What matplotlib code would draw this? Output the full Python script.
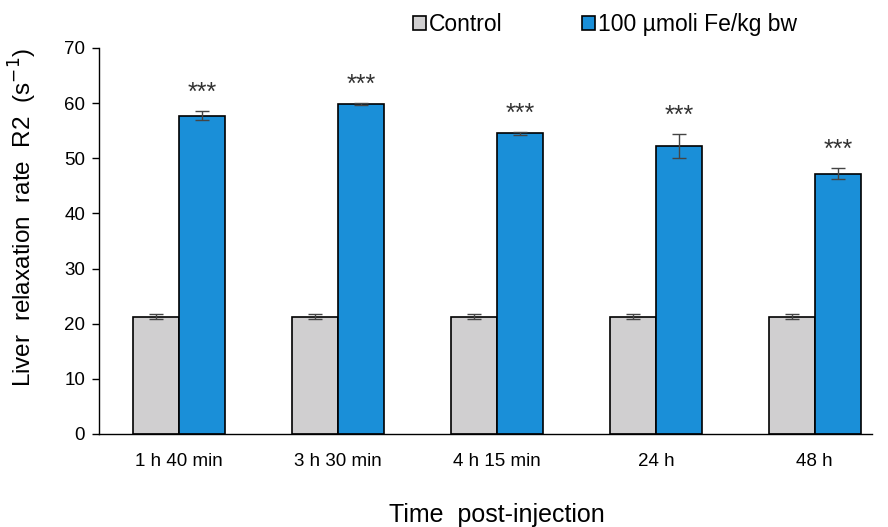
#!/usr/bin/env python3
"""Liver R2 relaxation rate bar chart"""
import matplotlib
matplotlib.use('Agg')
import matplotlib.pyplot as plt
import numpy as np

times = ['1 h 40 min', '3 h 30 min', '4 h 15 min', '24 h', '48 h']
control = [21.3, 21.3, 21.3, 21.3, 21.3]
control_err = [0.4, 0.4, 0.4, 0.4, 0.4]
treated = [57.7, 59.8, 54.5, 52.2, 47.2]
treated_err = [0.8, 0.2, 0.2, 2.2, 1.0]
stars = ['***'] * 5

plt.rcParams['font.family'] = ['Liberation Sans', 'DejaVu Sans']

fig = plt.figure(figsize=(8.88, 5.27), dpi=100)
ax = fig.add_axes([0.1115, 0.1765, 0.8705, 0.7325])

x = np.arange(len(times))
w = 0.29
err_kw = dict(ecolor='#444444', elinewidth=1.0, capsize=5, capthick=1.0)
ax.bar(x - w / 2, control, w, yerr=control_err, color='#d0cfd0',
       edgecolor='black', linewidth=1.2, label='Control', error_kw=err_kw)
ax.bar(x + w / 2, treated, w, yerr=treated_err, color='#1a8fd8',
       edgecolor='black', linewidth=1.2, label='100 µmoli Fe/kg bw', error_kw=err_kw)

for xi, v, e, s in zip(x, treated, treated_err, stars):
    ax.text(xi + w / 2, v + e + 2.0, s, ha='center', va='baseline',
            fontsize=18, color='#333333')

ax.set_xlim(-0.503, 4.36)
ax.set_ylim(0, 70)
ax.set_yticks(range(0, 71, 10))
ax.set_xticks(x)
ax.set_xticklabels(times)
ax.tick_params(axis='x', length=0, labelsize=13.5, pad=14)
ax.tick_params(axis='y', direction='out', length=5, width=1.0, labelsize=13.5, pad=5)
for side in ['top', 'right']:
    ax.spines[side].set_visible(False)
for side in ['left', 'bottom']:
    ax.spines[side].set_linewidth(1.0)

ax.set_ylabel('Liver  relaxation  rate  R2  (s$^{-1}$)', fontsize=17.5)
ax.yaxis.set_label_coords(-0.077, 0.562)
ax.set_xlabel('Time  post-injection', fontsize=18)
ax.xaxis.set_label_coords(0.515, -0.178)

ax.legend(loc='center left', bbox_to_anchor=(0.452, 0.9526),
          bbox_transform=fig.transFigure, borderpad=0, ncol=2, frameon=False,
          fontsize=16.5, handlelength=0.57, handleheight=0.57, handletextpad=0.13,
          columnspacing=3.45)

fig.savefig('out.png', dpi=100)
